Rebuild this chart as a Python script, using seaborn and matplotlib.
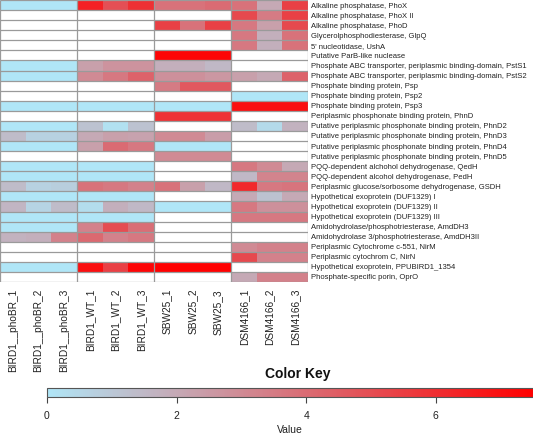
import numpy as np
import pandas as pd
import matplotlib
matplotlib.use("Agg")
import matplotlib.pyplot as plt
from matplotlib.colors import LinearSegmentedColormap
import seaborn as sns

plt.rcParams['font.family'] = ['Liberation Sans', 'DejaVu Sans']

N = np.nan

genes = [
    "Alkaline phosphatase, PhoX",
    "Alkaline phosphatase, PhoX II",
    "Alkaline phosphatase, PhoD",
    "Glycerolphosphodiesterase, GlpQ",
    "5' nucleotidase, UshA",
    "Putative ParB-like nuclease",
    "Phosphate ABC transporter, periplasmic binding-domain, PstS1",
    "Phosphate ABC transporter, periplasmic binding-domain, PstS2",
    "Phosphate binding protein, Psp",
    "Phosphate binding protein, Psp2",
    "Phosphate binding protein, Psp3",
    "Periplasmic phosphonate binding protein, PhnD",
    "Putative periplasmic phosphonate binding protein, PhnD2",
    "Putative periplasmic phosphonate binding protein, PhnD3",
    "Putative periplasmic phosphonate binding protein, PhnD4",
    "Putative periplasmic phosphonate binding protein, PhnD5",
    "PQQ-dependent alchohol dehydrogenase, QedH",
    "PQQ-dependent alcohol dehydrogenase, PedH",
    "Periplasmic glucose/sorbosome dehydrogenase, GSDH",
    "Hypothetical exoprotein (DUF1329) I",
    "Hypothetical exoprotein (DUF1329) II",
    "Hypothetical exoprotein (DUF1329) III",
    "Amidohydrolase/phosphotriesterase, AmdDH3",
    "Amidohydrolase 3/phosphotriesterase, AmdDH3II",
    "Periplasmic Cytochrome c-551, NirM",
    "Periplasmic cytochrom C, NirN",
    "Hypothetical exoprotein, PPUBIRD1_1354",
    "Phosphate-specific porin, OprO",
]

samples = ["BIRD1__phoBR_1", "BIRD1__phoBR_2", "BIRD1__phoBR_3",
           "BIRD1_WT_1", "BIRD1_WT_2", "BIRD1_WT_3",
           "SBW25_1", "SBW25_2", "SBW25_3",
           "DSM4166_1", "DSM4166_2", "DSM4166_3"]

phoBR = [
    [0, 0, 0], [N, N, N], [N, N, N], [N, N, N], [N, N, N], [N, N, N],
    [0, 0, 0], [0, 0, 0], [N, N, N], [N, N, N], [0, 0, 0], [N, N, N],
    [0, 0, 0], [1.4, 0.7, 0.7], [0, 0, 0], [N, N, N], [0, 0, 0], [0, 0, 0],
    [1.4, 0.7, 0.8], [0, 0, 0], [1.6, 0.6, 1.4], [0, 0, 0], [0, 0, 0],
    [1.7, 1.8, 3.3], [N, N, N], [N, N, N], [0, 0, 0], [N, N, N],
]
WT = [
    [6.4, 4.9, 5.9], [N, N, N], [N, N, N], [N, N, N], [N, N, N], [N, N, N],
    [2.3, 2.7, 2.7], [3.0, 3.6, 4.3], [N, N, N], [N, N, N], [0, 0, 0], [N, N, N],
    [1.2, 0.2, 1.2], [2.0, 2.3, 2.2], [2.3, 4.0, 3.6], [N, N, N], [0, 0, 0], [0, 0, 0],
    [3.8, 3.6, 3.3], [0, 0, 0], [0.3, 1.8, 1.5], [0, 0, 0], [3.3, 5.0, 3.9],
    [4.1, 3.3, 3.6], [N, N, N], [N, N, N], [7.0, 5.4, 7.3], [N, N, N],
]
SBW25 = [
    [3.8, 3.8, 4.0], [N, N, N], [5.4, 3.8, 5.4], [N, N, N], [N, N, N], [7.3, 7.3, 7.3],
    [1.8, 1.8, 1.5], [2.8, 2.8, 2.6], [3.5, 4.6, 4.6], [N, N, N], [0, 0, 0], [5.9, 5.9, 5.9],
    [N, N, N], [3.0, 3.0, 2.4], [0, 0, 0], [3.0, 3.0, 3.0], [N, N, N], [N, N, N],
    [3.8, 2.3, 1.5], [N, N, N], [0, 0, 0], [N, N, N], [N, N, N],
    [N, N, N], [N, N, N], [N, N, N], [7.5, 7.5, 7.5], [N, N, N],
]
DSM4166 = [
    [3.8, 2.0, 5.4], [5.1, 3.5, 5.4], [3.6, 2.3, 5.1], [3.6, 1.8, 3.8], [3.6, 1.8, 3.8], [N, N, N],
    [N, N, N], [2.3, 2.0, 4.3], [N, N, N], [0, 0, 0], [7.0, 7.0, 7.0], [N, N, N],
    [1.4, 0.4, 1.7], [N, N, N], [N, N, N], [N, N, N], [3.6, 3.0, 2.0], [1.5, 3.2, 3.2],
    [6.2, 3.6, 3.7], [2.0, 1.2, 2.0], [3.6, 2.8, 2.8], [3.6, 3.6, 3.6], [N, N, N],
    [N, N, N], [3.0, 3.3, 3.3], [5.1, 3.3, 3.3], [N, N, N], [2.0, 3.3, 3.3],
]

vmin, vmax = 0, 7.5
cbar_ticks = [0, 2, 4, 6]

data = np.hstack([np.array(phoBR, float), np.array(WT, float),
                  np.array(SBW25, float), np.array(DSM4166, float)])
df = pd.DataFrame(data, index=genes, columns=samples)

cmap = LinearSegmentedColormap.from_list("kb", ["#B0E6F7", "#FF0000"])

fig = plt.figure(figsize=(5.33, 4.34), dpi=100)
ax = fig.add_axes([0.0, 1 - 282 / 434, 308 / 533, 282 / 434])
cax = fig.add_axes([47 / 533, 1 - 397 / 434, 1 - 47 / 533, 9 / 434])

sns.heatmap(df, ax=ax, cmap=cmap, vmin=vmin, vmax=vmax, cbar=False,
            xticklabels=True, yticklabels=True)

nrow, ncol = df.shape
ax.hlines(np.arange(nrow + 1), 0, ncol, colors="#9a9a9a", lw=0.9)
ax.vlines([0, 3, 6, 9, 12], 0, nrow, colors="#9a9a9a", lw=0.9)

ax.yaxis.tick_right()
ax.tick_params(axis="y", length=0, pad=2.5, labelsize=5.5, labelcolor="#222222")
ax.tick_params(axis="x", length=0, pad=5, labelsize=7.3, labelcolor="#222222")
plt.setp(ax.get_yticklabels(), rotation=0)
plt.setp(ax.get_xticklabels(), rotation=90)
ax.set_xlabel("")
ax.set_ylabel("")
for s in ax.spines.values():
    s.set_visible(False)

cb = fig.colorbar(ax.collections[0], cax=cax, orientation="horizontal")
cb.set_ticks(cbar_ticks)
cb.outline.set_edgecolor("#555555")
cb.outline.set_linewidth(0.8)
cax.tick_params(axis="x", length=4, width=0.8, color="#444444", labelsize=7.5,
                labelcolor="#222222", pad=6)
cax.set_xlabel("Value", fontsize=7.5, color="#222222", labelpad=3)
fig.text(298 / 533, 1 - 374 / 434, "Color Key", ha="center", va="center",
         fontsize=10, fontweight="bold", color="#111111")

fig.savefig("out.png", dpi=100)
